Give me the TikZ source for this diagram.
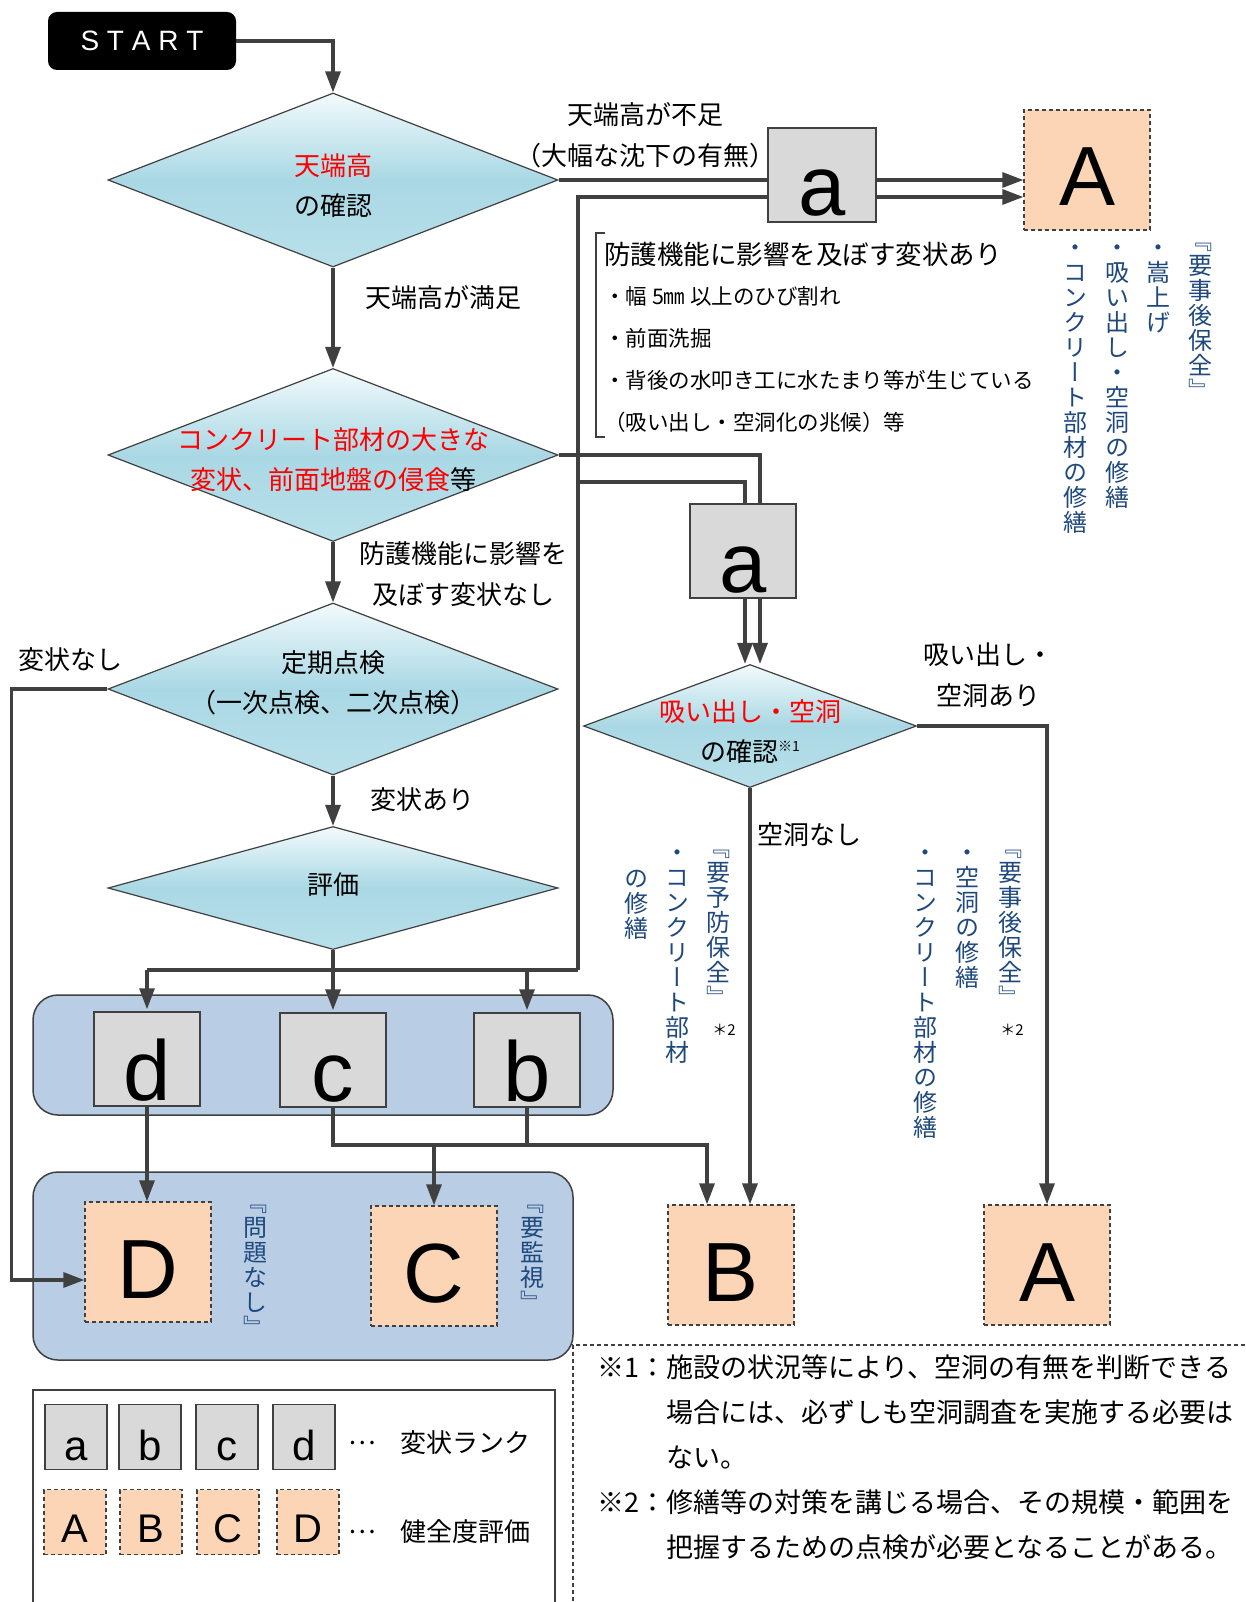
\documentclass[tikz,border=0pt]{standalone}
\usepackage{fontspec}
\setmainfont{Noto Sans CJK JP}
\newfontfamily\latinfont{Liberation Sans}
\newfontfamily\vertfont[Script=CJK,RawFeature=+vert]{Noto Sans CJK JP}
\usetikzlibrary{shapes.geometric,arrows.meta}

\definecolor{linegray}{HTML}{404040}
\definecolor{boxgray}{HTML}{D9D9D9}
\definecolor{peach}{HTML}{FBD5B5}
\definecolor{groupblue}{HTML}{B9CDE5}
\definecolor{noteblue}{HTML}{1F497D}
\definecolor{dtop}{HTML}{F2FAFC}
\definecolor{dmid}{HTML}{A9D8E4}
\definecolor{dbot}{HTML}{B9E0EA}

% stacking one character per line for the vertical notes
\makeatletter
\def\vst@end{\vst@end}
\def\vst@loop#1{\ifx\vst@end#1\else\hbox to 1em{\hss#1\hss}\expandafter\vst@loop\fi}
\newcommand\vstack[1]{\vbox{\lineskiplimit=-100pt\lineskip=0pt\vst@loop#1\vst@end}}
\makeatother

\tikzset{
  flow/.style={draw=linegray, line width=3.2pt, -{Triangle[length=21pt,width=15pt]}},
  link/.style={draw=linegray, line width=3.2pt},
  startbox/.style={fill=black, rounded corners=9pt, minimum width=188pt, minimum height=58pt,
    text=white, font=\latinfont\fontsize{28}{28}\selectfont},
  decision/.style={diamond, draw=linegray, line width=1.2pt, inner sep=0pt,
    top color=dtop, bottom color=dbot, middle color=dmid},
  dtext/.style={inner sep=0pt, align=center, font=\fontsize{26}{40}\selectfont},
  lbl/.style={inner sep=0pt, align=center, font=\fontsize{26}{41}\selectfont},
  rankbox/.style={draw=linegray, line width=1.5pt, fill=boxgray, inner sep=0pt,
    minimum width=106pt, text height=88pt, text depth=6pt, font=\latinfont\fontsize{85}{85}\selectfont},
  gradebox/.style={draw=linegray, line width=1.3pt, dash pattern=on 4pt off 3pt, fill=peach, inner sep=0pt,
    minimum width=126pt, text height=96pt, text depth=24pt, font=\latinfont\fontsize{84}{84}\selectfont},
  groupframe/.style={draw=linegray, line width=1.5pt, fill=groupblue, rounded corners=25pt},
  legrank/.style={rankbox, minimum width=62pt, text height=56pt, text depth=9pt,
    font=\latinfont\fontsize{42}{42}\selectfont},
  leggrade/.style={gradebox, minimum width=62pt, text height=53pt, text depth=12pt,
    font=\latinfont\fontsize{40}{40}\selectfont},
  vnote/.style={anchor=north, inner sep=0pt, text=noteblue, font=\vertfont\fontsize{24}{25}\selectfont},
  starnote/.style={inner sep=0pt, font=\fontsize{15}{15}\selectfont}
}

\begin{document}
\begin{tikzpicture}[x=1pt,y=-1pt]
\useasboundingbox (0,0) rectangle (1245,1602);
\fill[white] (0,0) rectangle (1245,1602);

% Drawing group frames
\node[groupframe, minimum width=580pt, minimum height=120pt] (rankgroup) at (323,1055) {};
\node[groupframe, minimum width=540pt, minimum height=188pt] (gradegroup) at (303,1266) {};

% Drawing START
\node[startbox] (start) at (142,41) {S T A R T};

% Drawing decisions
\node[decision, minimum width=450pt, minimum height=174pt] (crest) at (333,180) {};
\node[dtext] (crestlbl) at (333,186) {\textcolor{red}{天端高}\\の確認};
\node[decision, minimum width=450pt, minimum height=173pt] (damage) at (333,455) {};
\node[dtext] (damagelbl) at (333,460) {\textcolor{red}{コンクリート部材の大きな}\\\textcolor{red}{変状、前面地盤の侵食}等};
\node[decision, minimum width=450pt, minimum height=172pt] (periodic) at (333,689) {};
\node[dtext] (periodiclbl) at (333,683) {定期点検\\（一次点検、二次点検）};
\node[decision, minimum width=450pt, minimum height=123pt] (assess) at (333,888) {};
\node[dtext] (assesslbl) at (333,885) {評価};
\node[decision, minimum width=333pt, minimum height=123pt] (cavity) at (750,726) {};
\node[dtext] (cavitylbl) at (750,732) {\textcolor{red}{吸い出し・空洞}\\の確認\raisebox{10pt}{\fontsize{14}{14}\selectfont ※1}};

% Drawing rank boxes
\node[rankbox, minimum width=108pt] (abox1) at (822,175) {a};
\node[rankbox] (abox2) at (743,551) {a};
\node[rankbox] (dbox) at (147,1059) {d};
\node[rankbox] (cbox) at (333,1060) {c};
\node[rankbox] (bbox) at (527,1060) {b};

% Drawing grade boxes
\node[gradebox] (Abox1) at (1087,170) {A};
\node[gradebox] (Dbox) at (148,1262) {D};
\node[gradebox] (Cbox) at (434,1266) {C};
\node[gradebox] (Bbox) at (731,1265) {B};
\node[gradebox] (Abox2) at (1047,1265) {A};

% Drawing branch labels
\node[lbl] (shortlbl) at (645,135) {天端高が不足\\（大幅な沈下の有無）};
\node[lbl, anchor=west] (oklbl) at (365,298) {天端高が満足};
\node[lbl] (nodmglbl) at (463,574) {防護機能に影響を\\及ぼす変状なし};
\node[lbl] (nochglbl) at (70,660) {変状なし};
\node[lbl, anchor=west] (chglbl) at (370,800) {変状あり};
\node[lbl] (cavyeslbl) at (988,675) {吸い出し・\\空洞あり};
\node[lbl, anchor=west] (cavnolbl) at (757,835) {空洞なし};

% Drawing bracketed damage list
\draw[linegray, line width=1.5pt] (605,233) -- (596,233) -- (596,437) -- (605,437);
\node[anchor=west, inner sep=0pt, font=\fontsize{26.5}{26.5}\selectfont] (dmghead) at (604,254) {防護機能に影響を及ぼす変状あり};
\node[anchor=west, align=left, inner sep=0pt, font=\fontsize{21.5}{42}\selectfont] (dmglist) at (604,360)
  {・幅 5㎜ 以上のひび割れ\\・前面洗掘\\・背後の水叩き工に水たまり等が生じている\\（吸い出し・空洞化の兆候）等};

% Drawing vertical notes
\node[vnote] (postA1) at (1200,243) {\vstack{『要事後保全』}};
\node[vnote] (raiseA1) at (1158,245) {\vstack{・嵩上げ}};
\node[vnote] (cavA1) at (1117,245) {\vstack{・吸い出し・空洞の修繕}};
\node[vnote] (concA1) at (1075,245) {\vstack{・コンクリート部材の修繕}};
\node[vnote] (prevB) at (718,850) {\vstack{『要予防保全』}};
\node[starnote] (starB) at (724,1030) {＊2};
\node[vnote] (concB) at (677,850) {\vstack{・コンクリート部材}};
\node[vnote] (repB) at (636,870) {\vstack{の修繕}};
\node[vnote] (postA2) at (1010,850) {\vstack{『要事後保全』}};
\node[starnote] (starA2) at (1012,1030) {＊2};
\node[vnote] (cavA2) at (967,850) {\vstack{・空洞の修繕}};
\node[vnote] (concA2) at (925,850) {\vstack{・コンクリート部材の修繕}};
\node[vnote] (okD) at (255,1205) {\vstack{『問題なし』}};
\node[vnote] (watchC) at (532,1205) {\vstack{『要監視』}};

% Drawing connectors
\coordinate (riseTop) at (578,197);
\coordinate (riseMid) at (578,482);
\coordinate (splitEast) at (578,970);
\coordinate (splitWest) at (147,970);
\coordinate (mergeLow) at (333,1145);
\draw[flow] (start.east) -| (crest.north);
\draw[link] (crest.east) -- (crest.east -| abox1.west);
\draw[flow] (crest.east -| abox1.east) -- (crest.east -| Abox1.west);
\draw[link] (splitEast) -- (riseTop) -- (riseTop -| abox1.west);
\draw[flow] (riseTop -| abox1.east) -- (riseTop -| Abox1.west);
\draw[flow] (crest.south) -- (damage.north);
\draw[link] (damage.east) -| ([xshift=17pt]abox2.north);
\draw[link] (riseMid) -| ([xshift=2pt]abox2.north);
\draw[flow] ([xshift=2pt]abox2.south) -- ([xshift=2pt]abox2.south |- cavity.north);
\draw[flow] ([xshift=17pt]abox2.south) -- ([xshift=17pt]abox2.south |- cavity.north);
\draw[flow] (cavity.east) -| (Abox2.north);
\draw[flow] (cavity.south) -- (cavity.south |- Bbox.north);
\draw[flow] (damage.south) -- (periodic.north);
\draw[flow] (periodic.west) -- ++(-96,0) |- ([yshift=-18pt]Dbox.west);
\draw[flow] (periodic.south) -- (assess.north);
\draw[link] (assess.south) -- (assess.south |- splitEast);
\draw[link] (splitWest) -- (splitEast);
\draw[flow] (splitWest) -- ([yshift=2pt]dbox.north);
\draw[flow] (cbox.north |- splitEast) -- ([yshift=2pt]cbox.north);
\draw[flow] (bbox.north |- splitEast) -- ([yshift=2pt]bbox.north);
\draw[flow] (dbox.south) -- (dbox.south |- Dbox.north);
\draw[flow] (cbox.south) -- (mergeLow) -| ([xshift=-24pt]Bbox.north);
\draw[link] (bbox.south) -- (bbox.south |- mergeLow);
\draw[flow] (Cbox.north |- mergeLow) -- (Cbox.north);

% Drawing legend
\node[draw=linegray, line width=1.5pt, fill=white, minimum width=522pt, minimum height=222pt] (legend) at (294,1501) {};
\foreach \lt/\xc in {a/76,b/150,c/227,d/304}
  \node[legrank] (leg\lt) at (\xc,1437) {\lt};
\foreach \gt/\xc in {A/75,B/151,C/228,D/308}
  \node[leggrade] (leg\gt) at (\xc,1522) {\gt};
\node[lbl] (legdots1) at (362,1443) {…};
\node[lbl, anchor=west] (legranklbl) at (400,1443) {変状ランク};
\node[lbl] (legdots2) at (362,1532) {…};
\node[lbl, anchor=west] (leggradelbl) at (400,1532) {健全度評価};

% Drawing footnotes
\draw[linegray, line width=1.2pt, dash pattern=on 4pt off 3pt] (1252,1345) -- (573,1345) -- (573,1610);
\node[anchor=north west, align=left, inner sep=0pt, font=\fontsize{27}{45}\selectfont] (notes) at (597,1354)
  {※1：施設の状況等により、空洞の有無を判断できる\\\hphantom{※1：}場合には、必ずしも空洞調査を実施する必要は\\\hphantom{※1：}ない。\\※2：修繕等の対策を講じる場合、その規模・範囲を\\\hphantom{※1：}把握するための点検が必要となることがある。};
\end{tikzpicture}
\end{document}
